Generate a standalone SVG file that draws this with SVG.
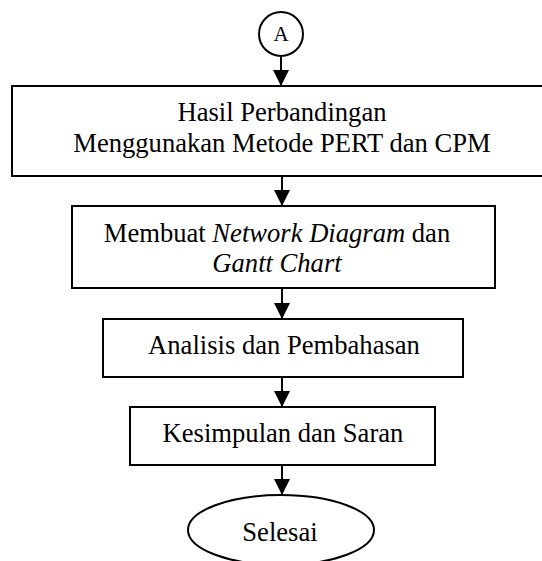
<svg xmlns="http://www.w3.org/2000/svg" width="542" height="561" viewBox="0 0 542 561">
  <style>
    .box { fill: #ffffff; stroke: #000000; stroke-width: 2; }
    .t { font-family: "Liberation Serif", "Times New Roman", serif; font-size: 26.6px; fill: #000000; text-anchor: middle; }
    .it { font-style: italic; }
    .conn { stroke: #000000; stroke-width: 2; fill: none; marker-end: url(#arrow); }
  </style>
  <defs>
    <marker id="arrow" markerUnits="userSpaceOnUse" markerWidth="16" markerHeight="16" refX="16" refY="8" orient="auto" viewBox="0 0 16 16">
      <path d="M0,0 L16,8 L0,16 Z" fill="#000000"/>
    </marker>
  </defs>
  <rect width="542" height="561" fill="#ffffff"/>
  <g id="connectors">
    <line class="conn" x1="281" y1="56" x2="281" y2="86"/>
    <line class="conn" x1="282" y1="176" x2="282" y2="206"/>
    <line class="conn" x1="282" y1="288" x2="282" y2="319"/>
    <line class="conn" x1="282" y1="377" x2="282" y2="407"/>
    <line class="conn" x1="282" y1="465" x2="282" y2="495"/>
  </g>
  <g id="nodeA">
    <circle cx="281" cy="34" r="22" fill="#ffffff" stroke="#000000" stroke-width="2"/>
    <text class="t" x="281" y="41" style="font-size:21px">A</text>
  </g>
  <g id="hasil">
    <rect class="box" x="12" y="86" width="535" height="90"/>
    <text class="t" x="282" y="121">Hasil Perbandingan</text>
    <text class="t" x="282" y="152">Menggunakan Metode PERT dan CPM</text>
  </g>
  <g id="membuat">
    <rect class="box" x="72" y="206" width="423" height="82"/>
    <text class="t" x="277" y="242">Membuat <tspan class="it">Network Diagram</tspan> dan</text>
    <text class="t it" x="277" y="272">Gantt Chart</text>
  </g>
  <g id="analisis">
    <rect class="box" x="103" y="319" width="360" height="58"/>
    <text class="t" x="284" y="354">Analisis dan Pembahasan</text>
  </g>
  <g id="kesimpulan">
    <rect class="box" x="130" y="407" width="305" height="58"/>
    <text class="t" x="283" y="442">Kesimpulan dan Saran</text>
  </g>
  <g id="selesai">
    <ellipse cx="281" cy="530" rx="93" ry="35" fill="#ffffff" stroke="#000000" stroke-width="2"/>
    <text class="t" x="280" y="541">Selesai</text>
  </g>
</svg>
